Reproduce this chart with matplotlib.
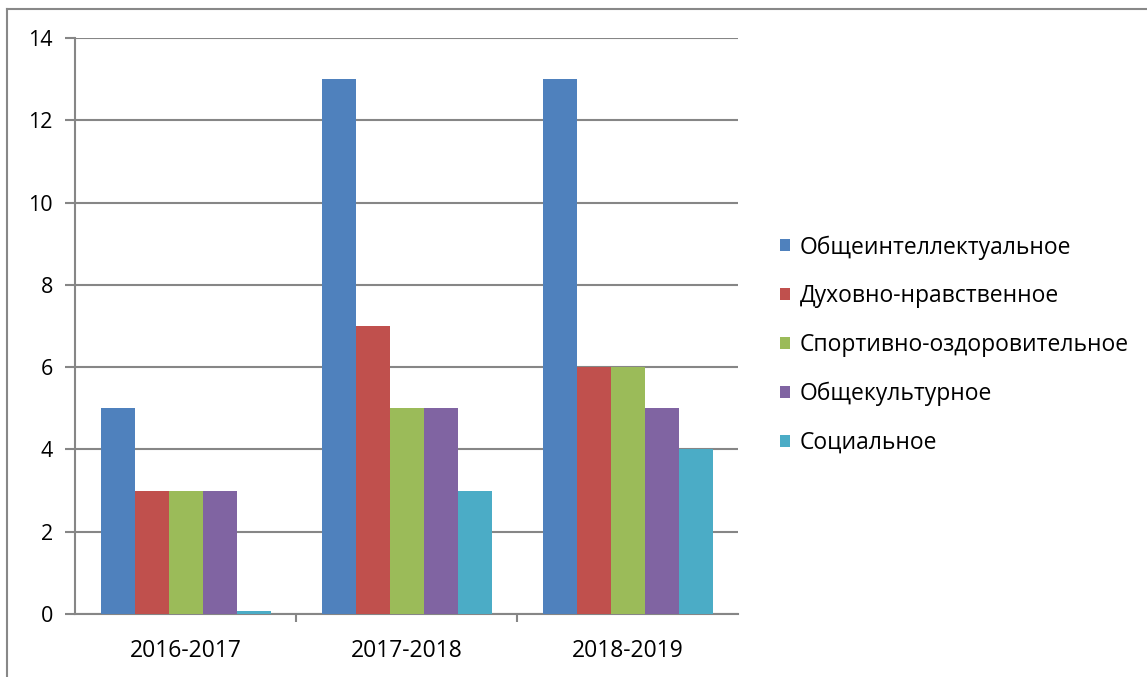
import matplotlib
matplotlib.use("Agg")
import matplotlib.pyplot as plt
from matplotlib.lines import Line2D
import numpy as np

categories = ["2016-2017", "2017-2018", "2018-2019"]
series_names = ["Общеинтеллектуальное", "Духовно-нравственное",
                "Спортивно-оздоровительное", "Общекультурное", "Социальное"]
obshcheint = [5, 13, 13]
dukhovno = [3, 7, 6]
sport = [3, 5, 6]
obshchekult = [3, 5, 5]
socialnoe = [0.08, 3, 4]
values = [obshcheint, dukhovno, sport, obshchekult, socialnoe]
colors = ["#4F81BD", "#C0504D", "#9BBB59", "#8064A2", "#4BACC6"]

plt.rcParams['font.family'] = ['Open Sans', 'DejaVu Sans']

fig = plt.figure(figsize=(11.47, 6.77), dpi=100)
ax = fig.add_axes([75/1147, 1-614/677, (738-75)/1147, (614-38)/677])

x = np.arange(len(categories))
n = len(values)
bw = 34/221
for i, (vals, c, name) in enumerate(zip(values, colors, series_names)):
    ax.bar(x + (i - (n-1)/2)*bw, vals, width=bw, color=c, label=name, zorder=3)

grid_c = "#868686"
fs = 15.5
ax.set_xlim(-0.5, 2.5)
ax.set_ylim(0, 14)
ax.set_yticks(range(0, 15, 2))
ax.yaxis.grid(True, color=grid_c, linewidth=1.5, zorder=0)
ax.set_xticks(x)
ax.set_xticklabels(categories)
ax.set_xticks([0.5, 1.5], minor=True)
ax.tick_params(axis='x', which='major', length=0, pad=18, labelsize=16.5, colors="#000000")
ax.tick_params(axis='x', which='minor', length=6, width=1.5, color=grid_c, direction='out')
ax.tick_params(axis='y', length=7, width=1.5, color=grid_c, labelsize=fs, pad=9)
for s in ['top', 'right']:
    ax.spines[s].set_visible(False)
ax.spines['left'].set_color(grid_c)
ax.spines['left'].set_linewidth(1.5)
ax.spines['bottom'].set_color(grid_c)
ax.spines['bottom'].set_linewidth(1.5)

handles, labels = ax.get_legend_handles_labels()
leg = fig.legend(handles, labels, loc='center left', bbox_to_anchor=(780/1147, 1-345/677),
                 frameon=False, fontsize=16.5, handlelength=0.42, handleheight=0.42,
                 handletextpad=0.45, labelspacing=1.08, borderaxespad=0, borderpad=0)

fig.add_artist(Line2D([7/1147, 7/1147], [0, 1-9/677], color="#888888", linewidth=1.5))
fig.add_artist(Line2D([7/1147, 1], [1-9/677, 1-9/677], color="#888888", linewidth=1.5))

fig.savefig("out.png", dpi=100)
